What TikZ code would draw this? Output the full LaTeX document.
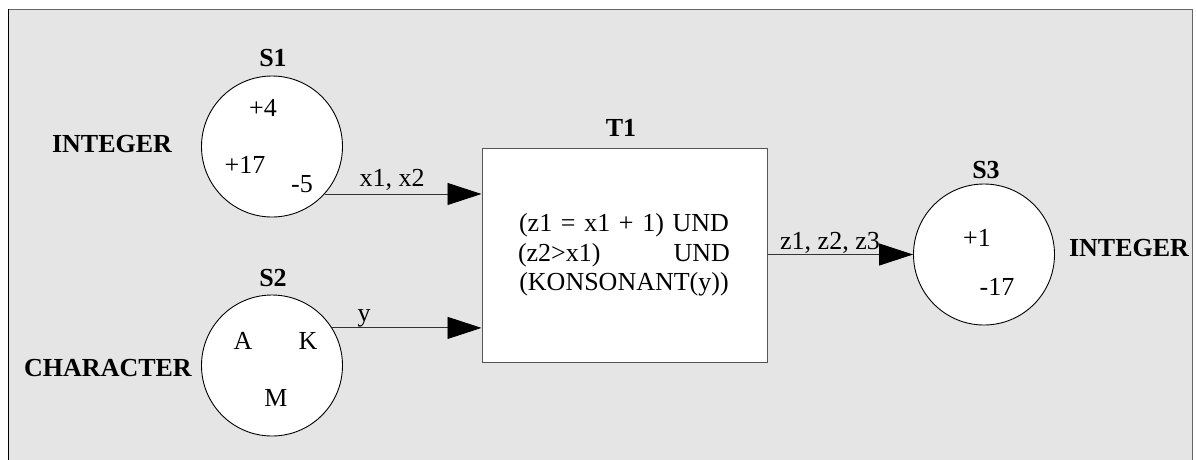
\documentclass[tikz,border=0pt]{standalone}
\usepackage{fontspec}
\setmainfont{Liberation Serif}
\usetikzlibrary{arrows.meta}
\definecolor{bggray}{HTML}{E5E5E5}
\definecolor{framegray}{HTML}{666666}
\definecolor{boxgray}{HTML}{555555}
\begin{document}
\begin{tikzpicture}[x=1pt,y=-1pt,
  every node/.style={font=\fontsize{26}{29.5}\selectfont, inner sep=0pt},
  place/.style={circle, draw=black, fill=white, line width=0.9pt, minimum size=141pt},
  trans/.style={rectangle, draw=boxgray, fill=white, line width=1pt, minimum width=285pt, minimum height=214pt},
  lbl/.style={font=\fontsize{26}{29.5}\selectfont\bfseries},
  conn/.style={draw=black!80, line width=0.9pt, -{Triangle[length=34pt,width=22pt,black]}}
]
\clip (0,0) rectangle (1196,459);
\useasboundingbox (0,0) rectangle (1196,459);
% frame
\fill[bggray] (8,9) rectangle (1192,470);
\draw[framegray, line width=1.5pt] (8,9.5) -- (1192.5,9.5) -- (1192.5,470);
\draw[black, line width=1.2pt] (8.5,9) -- (8.5,470);

% places
\node[place] (s1) at (272,146.5) {};
\node[place] (s2) at (272,365.5) {};
\node[place] (s3) at (984,254.5) {};
\node[trans] (t1) at (624.5,255) {};

% place labels
\node[lbl] (s1n) at (273,58) {S1};
\node[lbl] (s2n) at (273,278) {S2};
\node[lbl] (s3n) at (986,170) {S3};
\node[lbl] (t1n) at (621,128) {T1};
\node[lbl] (i1) at (112,144) {INTEGER};
\node[lbl] (ch) at (108,368) {CHARACTER};
\node[lbl] (i3) at (1129,248) {INTEGER};

% tokens
\node (a1) at (263,108) {+4};
\node (a2) at (245,165) {+17};
\node (a3) at (302,184) {-5};
\node (b1) at (243,341) {A};
\node (b2) at (308,341) {K};
\node (b3) at (276,398) {M};
\node (c1) at (977,238) {+1};
\node (c2) at (997,287) {-17};

% guard
\node[text width=212pt, align=center] (g) at (624,255)
  {(z1 = x1 + 1) UND\\(z2>x1)\hfill UND\\(KONSONANT(y))};

% arcs
\draw[conn] (s1.-42.4) -- (s1.-42.4 -| t1.west);
\draw[conn] (s2.32.1) -- (s2.32.1 -| t1.west);
\draw[conn] (t1.east |- s3.west) -- (s3.west);

% arc labels
\node (l1) at (392,180) {x1, x2};
\node (l2) at (364,318) {y};
\node (l3) at (830,243) {z1, z2, z3};
\end{tikzpicture}
\end{document}
